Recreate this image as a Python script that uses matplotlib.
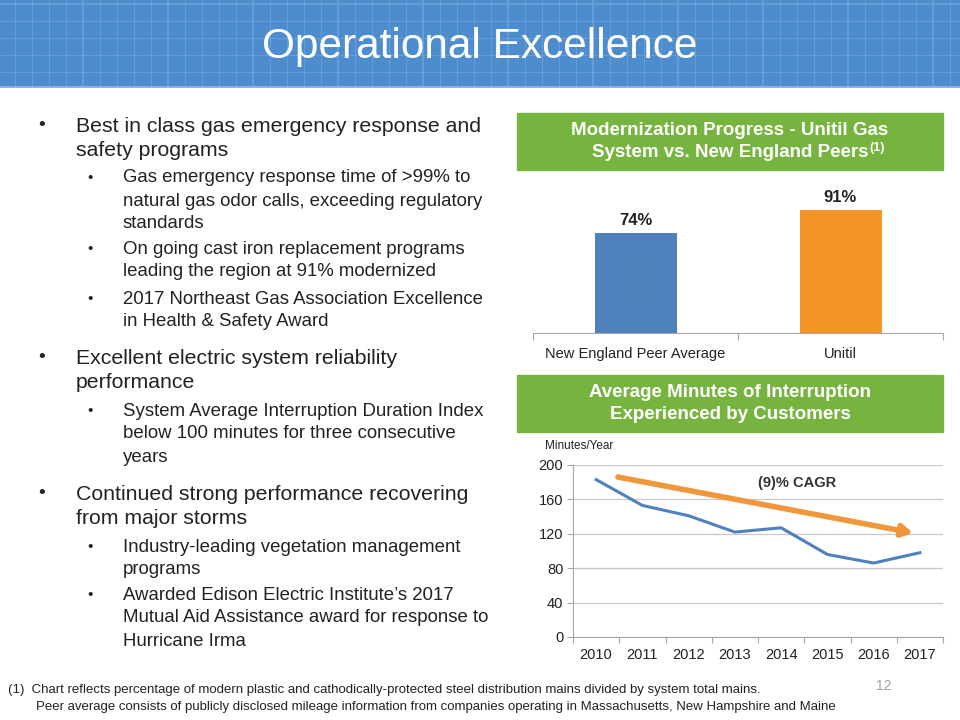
import matplotlib
matplotlib.use("Agg")
import matplotlib.pyplot as plt
from matplotlib.patches import Rectangle
from matplotlib.transforms import offset_copy

plt.rcParams['font.family'] = ['Liberation Sans', 'DejaVu Sans']

W, H = 960, 720

# ---------------- data ----------------
bar_categories = ["New England Peer Average", "Unitil"]
bar_values = [74, 91]
bar_labels = ["74%", "91%"]
bar_colors = ["#4F81BD", "#F79428"]

years = ["2010", "2011", "2012", "2013", "2014", "2015", "2016", "2017"]
minutes = [183, 153, 141, 122, 127, 96, 86, 98]
y_ticks = [0, 40, 80, 120, 160, 200]
cagr_start = (0.47, 186)
cagr_end = (6.85, 121)
cagr_label = "(9)% CAGR"

title = "Operational Excellence"
bar_title = ["Modernization Progress - Unitil Gas", "System vs. New England Peers"]
bar_title_sup = "(1)"
line_title = ["Average Minutes of Interruption", "Experienced by Customers"]

bullets = [
    (1, 126, "Best in class gas emergency response and"),
    (0, 151, "safety programs"),
    (2, 178, "Gas emergency response time of >99% to"),
    (0, 201, "natural gas odor calls, exceeding regulatory"),
    (0, 224, "standards"),
    (2, 249, "On going cast iron replacement programs"),
    (0, 272, "leading the region at 91% modernized"),
    (2, 299, "2017 Northeast Gas Association Excellence"),
    (0, 322, "in Health & Safety Award"),
    (1, 358, "Excellent electric system reliability"),
    (0, 383, "performance"),
    (2, 411, "System Average Interruption Duration Index"),
    (0, 434, "below 100 minutes for three consecutive"),
    (0, 457, "years"),
    (1, 494, "Continued strong performance recovering"),
    (0, 519, "from major storms"),
    (2, 547, "Industry-leading vegetation management"),
    (0, 570, "programs"),
    (2, 595, "Awarded Edison Electric Institute\u2019s 2017"),
    (0, 618, "Mutual Aid Assistance award for response to"),
    (0, 641, "Hurricane Irma"),
]

footnote1 = "(1)  Chart reflects percentage of modern plastic and cathodically-protected steel distribution mains divided by system total mains."
footnote2 = "Peer average consists of publicly disclosed mileage information from companies operating in Massachusetts, New Hampshire and Maine"
page_no = "12"

# ---------------- figure ----------------
fig = plt.figure(figsize=(W / 100, H / 100), dpi=100)
fig.patch.set_facecolor("white")


def fx(x):
    return x / W


def fy(y):
    return 1 - y / H


# header band
hdr = fig.add_axes([0, fy(88), 1, 88 / H])
hdr.set_xlim(0, W)
hdr.set_ylim(88, 0)
hdr.axis("off")
hdr.add_patch(Rectangle((0, 0), W, 88, color="#4D8CCD", zorder=0))
for i, x in enumerate(range(-2, W, 17)):
    hdr.plot([x, x], [0, 88], color="#6FA3DA", lw=1.4 if i % 5 == 0 else 0.7,
             alpha=0.8, zorder=1)
for i, y in enumerate(range(4, 88, 17)):
    hdr.plot([0, W], [y, y], color="#6FA3DA", lw=1.4 if i % 5 == 0 else 0.7,
             alpha=0.8, zorder=1)
hdr.plot([0, W], [87, 87], color="#8DB6E2", lw=2, zorder=2)
fig.text(0.5, fy(47), title, ha="center", va="center", color="white",
         fontsize=30.5)

# bullets
current = 1
for lvl, y, txt in bullets:
    if lvl:
        current = lvl
    if current == 1:
        if lvl:
            fig.text(fx(38), fy(y), "\u2022", fontsize=14, va="center", color="#222222")
        fig.text(fx(76), fy(y), txt, fontsize=15.3, va="center", color="#222222")
    else:
        if lvl:
            fig.text(fx(87), fy(y), "\u2022", fontsize=11, va="center", color="#222222")
        fig.text(fx(123), fy(y), txt, fontsize=13.4, va="center", color="#222222")

# green headers
renderer = fig.canvas.get_renderer()
for (y0, y1, lines, sup) in [(113, 170, bar_title, bar_title_sup),
                             (375, 432, line_title, None)]:
    fig.patches.append(Rectangle((fx(517), fy(y1)), fx(943) - fx(517), (y1 - y0) / H,
                                 transform=fig.transFigure, color="#77B43F", zorder=0))
    yc = (y0 + y1) / 2
    t1 = fig.text(fx(730), fy(yc - 11), lines[0], ha="center", va="center", color="white",
                  fontsize=13.5, fontweight="bold")
    t2 = fig.text(fx(730), fy(yc + 11), lines[1], ha="center", va="center", color="white",
                  fontsize=13.5, fontweight="bold")
    if sup:
        bb = t2.get_window_extent(renderer)
        fig.text(bb.x1 / W + 1 / W, fy(yc + 6), sup, ha="left", va="center",
                 color="white", fontsize=9, fontweight="bold")

# ---------------- bar chart ----------------
axb = fig.add_axes([fx(533), fy(333), (943 - 533) / W, (333 - 198) / H])
xb = list(range(len(bar_categories)))
axb.bar(xb, bar_values, width=0.4, color=bar_colors)
for x, v, lab in zip(xb, bar_values, bar_labels):
    axb.text(x, v + 4, lab, ha="center", va="bottom", fontsize=12, fontweight="bold",
             color="#222222")
axb.set_xlim(-0.5, 1.5)
axb.set_ylim(0, 100)
for s in ["top", "right", "left"]:
    axb.spines[s].set_visible(False)
axb.spines["bottom"].set_color("#A6A6A6")
axb.set_yticks([])
axb.set_xticks([-0.5, 0.5, 1.5])
axb.set_xticklabels([])
axb.tick_params(axis="x", length=5, color="#A6A6A6")
axb.set_xticks(xb, minor=True)
axb.set_xticklabels(bar_categories, minor=True, fontsize=10.5, color="#222222")
axb.tick_params(axis="x", which="minor", length=0, pad=10)
axb.patch.set_alpha(0)

# ---------------- line chart ----------------
axl = fig.add_axes([fx(573), fy(637), (943 - 573) / W, 172 / H])
xl = list(range(len(years)))
axl.plot(xl, minutes, color="#4F81BD", lw=2.2, zorder=3)
axl.set_xlim(-0.5, len(years) - 0.5)
axl.set_ylim(0, 200)
axl.set_yticks(y_ticks)
axl.set_yticklabels([str(t) for t in y_ticks], fontsize=10.5, color="#222222")
axl.grid(axis="y", color="#C8C8C8", lw=0.9)
axl.set_axisbelow(True)
for s in ["top", "right"]:
    axl.spines[s].set_visible(False)
axl.spines["left"].set_color("#A6A6A6")
axl.spines["bottom"].set_color("#A6A6A6")
axl.tick_params(axis="y", length=4, color="#A6A6A6", pad=3)
axl.set_xticks([i - 0.5 for i in range(len(years) + 1)])
axl.set_xticklabels([])
axl.tick_params(axis="x", length=4, color="#A6A6A6")
axl.set_xticks(xl, minor=True)
axl.set_xticklabels(years, minor=True, fontsize=10.5, color="#222222")
axl.tick_params(axis="x", which="minor", length=0, pad=8)
axl.annotate("", xy=cagr_end, xytext=cagr_start,
             arrowprops=dict(arrowstyle="-|>,head_length=0.6,head_width=0.35",
                             color="#F0973B", lw=4, shrinkA=0, shrinkB=0), zorder=4)
axl.text(4.34, 179, cagr_label, ha="center", va="center", fontsize=10.5,
         fontweight="bold", color="#333333")
axl.patch.set_alpha(0)
fig.text(fx(545), fy(446), "Minutes/Year", fontsize=8.5, va="center", color="#222222")

# footnote
fig.text(fx(8), fy(690), footnote1, fontsize=9.55, va="center", color="#222222")
fig.text(fx(36), fy(707), footnote2, fontsize=9.55, va="center", color="#222222")
fig.text(fx(876), fy(686), page_no, fontsize=10, va="center", color="#A0A0A0")

fig.savefig("out.png", dpi=100)
